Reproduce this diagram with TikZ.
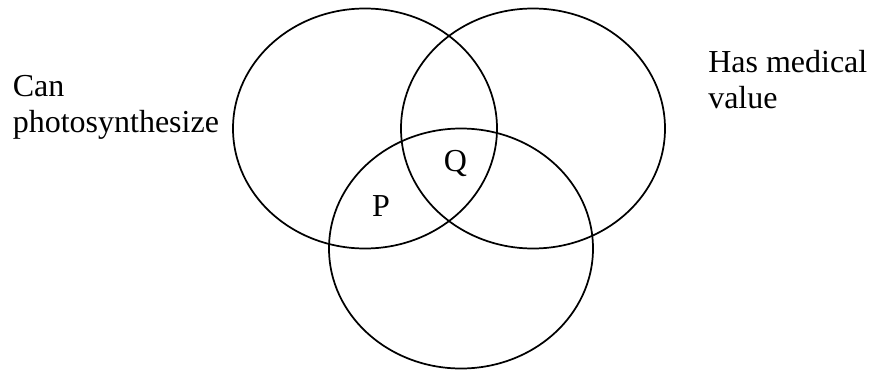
\documentclass[tikz,border=0pt]{standalone}
\usepackage{fontspec}
\setmainfont{Liberation Serif}
\usetikzlibrary{shapes.geometric,positioning}

\begin{document}
\begin{tikzpicture}[x=0.75pt, y=-0.75pt,
    set/.style={ellipse, draw=black, line width=1.3pt, minimum width=198pt, minimum height=180pt, inner sep=0pt},
    settext/.style={font=\fontsize{24}{27}\selectfont, align=left, inner sep=0pt}
]
    \useasboundingbox (0,0) rectangle (871,371);

    % the three sets
    \node[set] (photo) at (365,128.5) {};
    \node[set] (medical) at (533,128.5) {};
    \node[set] (third) at (461,248.5) {};

    \node[settext, anchor=north west] (canphoto) at (12.5,75) {Can\\photosynthesize};
    \node[settext, anchor=north west] (hasmed) at (708,50.5) {Has medical\\value};

    \node[settext, anchor=base] (regp) at (381,216) {P};
    \node[settext, anchor=base] (regq) at (455.5,171.5) {Q};
\end{tikzpicture}
\end{document}
